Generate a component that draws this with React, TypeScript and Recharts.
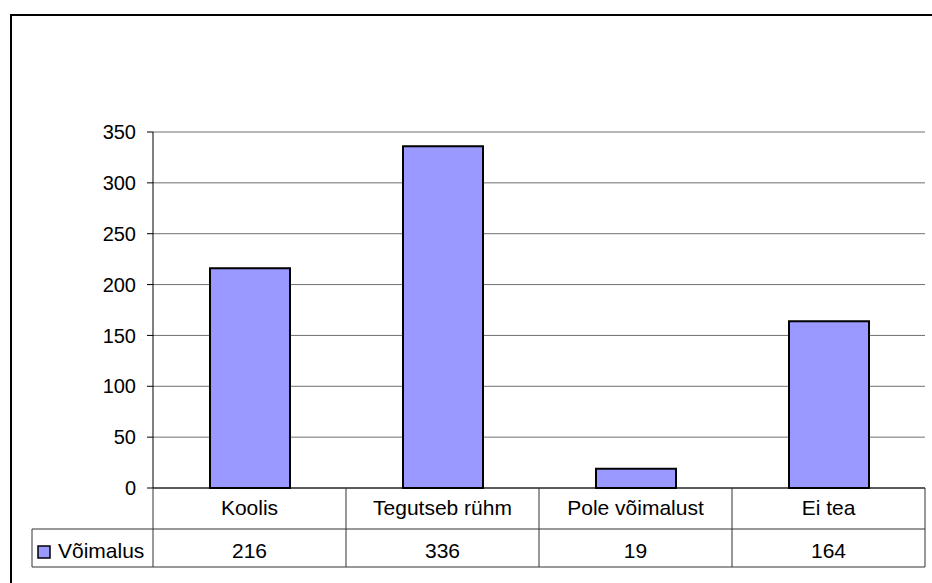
import React from 'react';
import { BarChart, Bar, XAxis, YAxis, CartesianGrid } from 'recharts';

const categories = ['Koolis', 'Tegutseb rühm', 'Pole võimalust', 'Ei tea'];
const values = [216, 336, 19, 164];
const seriesName = 'Võimalus';
const yTicks = [0, 50, 100, 150, 200, 250, 300, 350];

const data = categories.map((name, i) => ({ name, value: values[i] }));

const W = 932;
const H = 583;
const LEFT = 153;
const RIGHT = 7;
const CELL_W = (W - LEFT - RIGHT) / categories.length;
const FONT = 'Arial, "Liberation Sans", sans-serif';
const BAR_FILL = '#9999ff';
const LINE = '#333';

// category labels + data table under the x axis
const TableTick = (props: any) => {
  const { x, y, payload } = props;
  const i = categories.indexOf(payload.value);
  const half = CELL_W / 2;
  const last = i === categories.length - 1;
  return (
    <g>
      <line x1={x - half} x2={x - half} y1={y} y2={y + 79} stroke={LINE} strokeWidth={1} />
      {last && <line x1={x + half} x2={x + half} y1={y} y2={y + 79} stroke={LINE} strokeWidth={1} />}
      <line x1={x - half} x2={x + half} y1={y + 41} y2={y + 41} stroke={LINE} strokeWidth={1} />
      <line x1={x - half} x2={x + half} y1={y + 79} y2={y + 79} stroke={LINE} strokeWidth={1} />
      <text x={x} y={y + 27} textAnchor="middle" fontSize={21} fontFamily={FONT} fill="#000">
        {payload.value}
      </text>
      <text x={x} y={y + 70} textAnchor="middle" fontSize={21} fontFamily={FONT} fill="#000">
        {values[i]}
      </text>
      {i === 0 && (
        <g>
          <line x1={32} x2={x - half} y1={y + 41} y2={y + 41} stroke={LINE} strokeWidth={1} />
          <line x1={32} x2={x - half} y1={y + 79} y2={y + 79} stroke={LINE} strokeWidth={1} />
          <line x1={32} x2={32} y1={y + 41} y2={y + 79} stroke={LINE} strokeWidth={1} />
          <rect x={38} y={y + 58} width={12} height={12} fill={BAR_FILL} stroke="#000" strokeWidth={1.5} />
          <text x={58} y={y + 70} fontSize={21} fontFamily={FONT} fill="#000">
            {seriesName}
          </text>
        </g>
      )}
    </g>
  );
};

export default function App() {
  return (
    <div style={{ position: 'absolute', left: 0, top: 0, width: W, height: H, overflow: 'hidden', background: '#fff' }}>
      <div
        style={{
          position: 'absolute',
          left: 10,
          top: 14,
          width: 960,
          height: 620,
          border: '2px solid #000',
        }}
      />
      <div style={{ position: 'absolute', left: 0, top: 0 }}>
        <BarChart width={W} height={H} data={data} margin={{ top: 132, right: RIGHT, bottom: 0, left: 0 }} barSize={80}>
          <CartesianGrid vertical={false} stroke="#707070" />
          <XAxis
            dataKey="name"
            height={95}
            tickLine={false}
            tickSize={0}
            tickMargin={0}
            interval={0}
            axisLine={{ stroke: '#000' }}
            tick={<TableTick />}
          />
          <YAxis
            width={LEFT}
            domain={[0, 350]}
            ticks={yTicks}
            interval={0}
            tickSize={6}
            tickMargin={11}
            axisLine={{ stroke: '#000' }}
            tickLine={{ stroke: '#000' }}
            tick={{ fill: '#000', fontSize: 20, fontFamily: FONT }}
          />
          <YAxis
            yAxisId="right"
            orientation="right"
            width={0}
            domain={[0, 350]}
            tick={false}
            tickLine={false}
            axisLine={{ stroke: '#808080' }}
          />
          <Bar dataKey="value" fill={BAR_FILL} stroke="#000" strokeWidth={2} isAnimationActive={false} />
        </BarChart>
      </div>
    </div>
  );
}
